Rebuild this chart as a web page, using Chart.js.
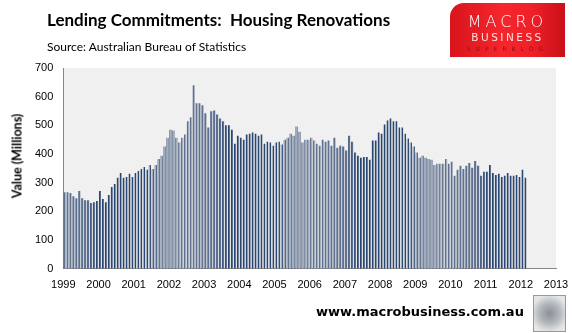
<!DOCTYPE html>
<html>
<head>
<meta charset="utf-8">
<script src="https://cdn.jsdelivr.net/npm/chart.js@4.4.0/dist/chart.umd.min.js"></script>
<style>
  body { margin: 0; background: #fff; }
  #wrap { position: relative; width: 572px; height: 333px; overflow: hidden; }
  #renoChart { position: absolute; left: 0; top: 0; }
  #title { position: absolute; left: 47px; top: 9px; font: bold 17px Lato, sans-serif; color: #000; white-space: nowrap; }
  #source { position: absolute; left: 47px; top: 39px; font: 12px Lato, sans-serif; color: #000; white-space: nowrap; }
  #ytitle { position: absolute; left: 17px; top: 156px; transform: translate(-50%, -50%) rotate(-90deg);
            font: bold 12.5px Lato, sans-serif; white-space: nowrap; }
  #logo { position: absolute; left: 450px; top: 3px; width: 115px; height: 54px;
          background: linear-gradient(90deg, #d8141c 0%, #f5262c 45%, #f02028 70%, #c8101a 100%);
          border-top-left-radius: 14px; text-align: center; font-family: "DejaVu Sans", sans-serif; }
  #logo .m { position: absolute; left: 0; width: 100%; top: 9px; font-size: 16px; letter-spacing: 4px; color: #fff; font-weight: 300; }
  #logo .b { position: absolute; left: 0; width: 100%; top: 28px; font-size: 10.5px; letter-spacing: 2.5px; color: #ffe0e0; }
  #logo .s { position: absolute; left: 0; width: 100%; top: 42px; font-size: 6px; letter-spacing: 5px; color: #9a0a10; }
  #site { position: absolute; left: 316px; top: 304px; font: bold 13px "DejaVu Sans", sans-serif; color: #000; white-space: nowrap; }
  #wolf { position: absolute; left: 533px; top: 295px; width: 31px; height: 35px; border: 1px solid #999;
          background: radial-gradient(circle at 50% 50%, #8a8f96 0%, #b5b9be 45%, #e6e6e6 80%); }
</style>
</head>
<body>
<div id="wrap">
  <canvas id="renoChart" width="572" height="333"></canvas>
  <div id="title">Lending Commitments:&nbsp; Housing Renovations</div>
  <div id="source">Source: Australian Bureau of Statistics</div>
  <div id="ytitle">Value (Millions)</div>
  <div id="logo"><div class="m">MACRO</div><div class="b">BUSINESS</div><div class="s">SUPERBLOG</div></div>
  <div id="site">www.macrobusiness.com.au</div>
  <div id="wolf"></div>
</div>
<script>
// monthly values, Jan 1999 onwards ($ millions)
const years = ['1999','2000','2001','2002','2003','2004','2005','2006','2007','2008','2009','2010','2011','2012','2013'];
const values = [
  267,267,264,253,246,271,246,239,239,229,232,236,
  271,243,232,257,285,296,317,334,317,320,331,320,
  334,341,348,355,345,362,348,362,383,394,426,457,
  485,482,457,440,457,468,514,528,640,577,577,570,
  542,493,549,552,538,524,514,500,500,485,436,464,
  457,450,468,471,475,471,464,468,436,443,440,429,
  440,443,433,450,457,471,464,496,478,440,450,450,
  457,447,436,429,450,443,447,429,457,422,429,426,
  412,464,443,405,394,387,390,390,380,447,447,475,
  471,503,517,524,514,514,493,493,471,454,440,426,
  405,387,394,387,383,380,362,366,366,366,383,366,
  373,324,345,359,348,359,369,352,376,359,324,338,
  338,362,334,327,331,320,324,334,324,324,327,320,
  345,317
];

// bars sit in the middle of each month slot
const points = values.map((v, i) => ({ x: i + 0.5, y: v }));

// striped fill, like the gradient bars in the original
const pat = document.createElement('canvas');
pat.width = 3; pat.height = 1;
const pc = pat.getContext('2d');
pc.fillStyle = '#2a4672'; pc.fillRect(0, 0, 1, 1);
pc.fillStyle = '#5f718e'; pc.fillRect(1, 0, 1, 1);
pc.fillStyle = '#a3acb9'; pc.fillRect(2, 0, 1, 1);

const ctx = document.getElementById('renoChart').getContext('2d');
const barFill = ctx.createPattern(pat, 'repeat');

const plotBg = {
  id: 'plotBg',
  beforeDraw(chart) {
    const a = chart.chartArea;
    const c = chart.ctx;
    c.save();
    c.fillStyle = '#f0f0f0';
    c.fillRect(a.left, a.top, a.right - a.left, a.bottom - a.top);
    c.restore();
  }
};

const tickFont = { family: 'Liberation Sans', size: 11 };

const chart = new Chart(ctx, {
  type: 'bar',
  data: {
    datasets: [{
      label: 'Value',
      data: points,
      backgroundColor: barFill,
      borderWidth: 0,
      barPercentage: 0.8,
      categoryPercentage: 0.9
    }]
  },
  options: {
    responsive: false,
    animation: false,
    layout: { padding: { left: 25, right: 16, top: 68, bottom: 31 } },
    plugins: { legend: { display: false }, tooltip: { enabled: false } },
    scales: {
      x: {
        type: 'linear',
        offset: false,
        min: 0,
        max: (years.length - 1) * 12,
        grid: { display: false, drawTicks: false },
        border: { display: true, color: '#868686', width: 1 },
        afterFit: s => { s.paddingRight = 0; },
        ticks: {
          stepSize: 12,
          autoSkip: false,
          maxRotation: 0,
          padding: 10,
          color: '#000',
          font: tickFont,
          callback: v => years[v / 12]
        }
      },
      y: {
        min: 0,
        max: 700,
        grid: { display: false, drawTicks: false },
        border: { display: true, color: '#868686', width: 1 },
        ticks: { stepSize: 100, padding: 10, color: '#000', font: tickFont }
      }
    }
  },
  plugins: [plotBg]
});
</script>
</body>
</html>
